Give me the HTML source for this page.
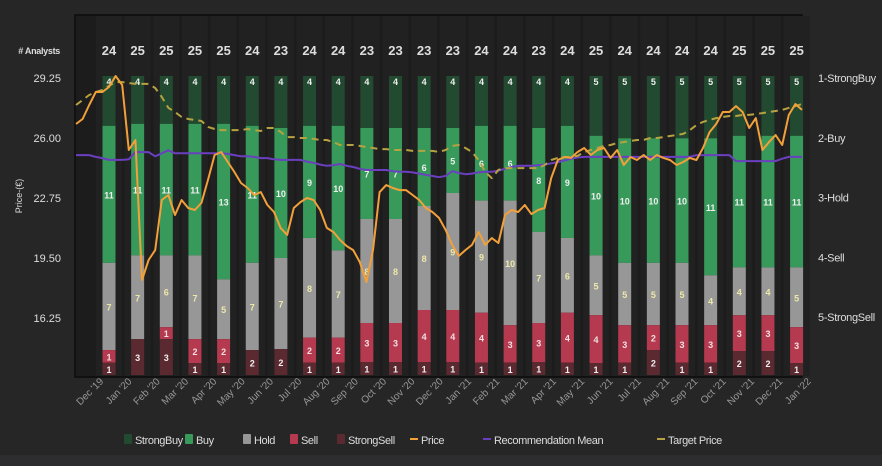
<!DOCTYPE html>
<html><head><meta charset="utf-8"><style>
html,body{margin:0;padding:0;background:#262626;}
svg{display:block;font-family:"Liberation Sans",sans-serif;}
</style></head><body>
<svg id="chart" width="882" height="466" viewBox="0 0 882 466">
<rect x="0" y="0" width="882" height="466" fill="#262626"/>
<rect x="0" y="455" width="882" height="11" fill="#2d2d2f"/>
<rect x="75" y="15" width="727" height="362" fill="#1c1c1c" stroke="#0c0c0c" stroke-width="1.5"/>
<g id="bands"></g><g id="bars"></g><g id="lines"></g><g id="axes"></g>
<text x="60" y="54" fill="#ddd" font-size="9" font-weight="bold" text-anchor="end" letter-spacing="-0.3"># Analysts</text>
<text x="22" y="196" fill="#ddd" font-size="9" text-anchor="middle" transform="rotate(-90 22 196)">Price-(€)</text>
<g id="legend" font-size="11" fill="#ddd"></g>
</svg>
<script>
const months=["Dec '19","Jan '20","Feb '20","Mar '20","Apr '20","May '20","Jun '20","Jul '20","Aug '20","Sep '20","Oct '20","Nov '20","Dec '20","Jan '21","Feb '21","Mar '21","Apr '21","May '21","Jun '21","Jul '21","Aug '21","Sep '21","Oct '21","Nov '21","Dec '21","Jan '22"];
const strongBuy=[4,4,4,4,4,4,4,4,4,4,4,4,4,4,4,4,4,5,5,5,5,5,5,5,5];
const buy=[11,11,11,11,13,11,10,9,10,7,7,6,5,6,6,8,9,10,10,10,10,11,11,11,11];
const hold=[7,7,6,7,5,7,7,8,7,8,8,8,9,9,10,7,6,5,5,5,5,4,4,4,5];
const sell=[1,0,1,2,2,0,0,2,2,3,3,4,4,4,3,3,4,4,3,2,3,3,3,3,3];
const strongSell=[1,3,3,1,1,2,2,1,1,1,1,1,1,1,1,1,1,1,1,2,1,1,2,2,1];
const priceTicks=[29.25,26.00,22.75,19.50,16.25];
const recTicks=["1-StrongBuy","2-Buy","3-Hold","4-Sell","5-StrongSell"];
const price=[26.76,27.03,27.79,28.49,28.49,28.76,29.36,28.87,25.35,25.89,18.31,19.39,19.93,22.64,22.91,21.83,22.64,22.21,22.10,22.48,23.73,25.08,25.24,24.70,24.16,23.56,23.29,22.91,23.07,22.37,21.99,21.13,20.75,22.21,22.53,22.75,22.64,22.10,21.13,20.91,20.48,20.15,19.93,19.28,18.20,19.93,23.07,23.45,23.29,23.18,23.18,22.91,22.64,22.21,21.99,21.67,21.02,20.21,19.61,19.93,20.21,20.91,20.21,20.58,20.31,21.83,22.10,21.99,22.37,21.88,22.10,22.21,23.83,24.81,24.97,24.92,25.24,25.46,25.08,25.35,25.46,24.92,25.35,24.54,24.97,24.81,25.08,24.81,25.08,24.92,24.81,24.54,24.70,24.92,24.81,25.46,26.32,26.76,27.41,27.41,27.73,27.41,26.54,27.08,25.35,25.78,26.16,25.62,27.25,27.84,27.52];
const target=[27.79,28.06,28.33,28.49,28.60,28.82,29.03,29.03,28.98,28.93,28.93,28.93,28.71,28.22,27.63,27.41,27.14,27.03,26.98,26.92,26.60,26.49,26.43,26.43,26.43,26.43,26.49,26.43,26.38,26.54,26.54,26.33,26.05,26.05,26.00,26.00,25.95,25.89,25.89,25.78,25.62,25.62,25.62,25.57,25.51,25.46,25.40,25.40,25.35,25.35,25.35,25.30,25.30,25.30,25.30,25.24,25.35,25.57,25.62,25.46,25.24,24.81,24.16,23.83,24.27,24.37,24.37,24.37,24.37,24.37,24.37,24.54,24.81,24.92,24.97,24.97,25.03,25.24,25.35,25.46,25.57,25.62,25.73,25.78,25.84,25.89,25.89,26.00,26.00,26.05,26.11,26.16,26.22,26.43,26.70,26.87,26.98,27.08,27.14,27.19,27.19,27.25,27.25,27.30,27.35,27.41,27.46,27.52,27.63,27.73,27.84];
const recMean=[2.29,2.29,2.29,2.32,2.34,2.37,2.37,2.37,2.36,2.24,2.24,2.24,2.31,2.26,2.21,2.26,2.26,2.26,2.26,2.26,2.26,2.26,2.26,2.27,2.29,2.31,2.31,2.32,2.34,2.34,2.36,2.37,2.37,2.37,2.37,2.40,2.42,2.45,2.47,2.46,2.44,2.47,2.49,2.52,2.54,2.54,2.54,2.54,2.56,2.57,2.57,2.58,2.60,2.62,2.64,2.66,2.64,2.56,2.59,2.61,2.60,2.58,2.57,2.57,2.55,2.52,2.49,2.47,2.47,2.47,2.46,2.45,2.43,2.41,2.38,2.35,2.33,2.32,2.32,2.32,2.32,2.32,2.32,2.32,2.32,2.32,2.32,2.32,2.32,2.32,2.32,2.32,2.32,2.32,2.29,2.29,2.29,2.29,2.29,2.29,2.39,2.39,2.39,2.39,2.39,2.39,2.39,2.35,2.32,2.32,2.32];

const NS='http://www.w3.org/2000/svg';
function mk(tag,attrs,parent,text){const e=document.createElementNS(NS,tag);for(const k in attrs)e.setAttribute(k,attrs[k]);if(text!==undefined)e.textContent=text;parent.appendChild(e);return e;}
const barX=i=>109+i*28.65;
const barTop=76,barBot=375;
const priceY=p=>78+(29.25-p)*60/3.25;
const recY=v=>78+(v-1)*59.75;
const timeX=(k,n)=>76+k*(726/(n-1));
const bands=document.getElementById('bands'),bars=document.getElementById('bars'),lines=document.getElementById('lines'),axes=document.getElementById('axes');
const segColors=['#224a30','#379a5b','#979797','#b5394f','#5b2a31'];
const segText=['#eee','#eee','#eee8a8','#f0e0e0','#eee'];
const series=[strongBuy,buy,hold,sell,strongSell];
const segNames=['strongbuy','buy','hold','sell','strongsell'];
for(let i=0;i<strongBuy.length;i++){
  const x=barX(i);
  const bd=mk('rect',{x:x-13,y:16,width:26,height:360,fill:'#212121'},bands);
  
  
  const tot=series.reduce((s,a)=>s+a[i],0);
  const ct=mk('text',{x:x,y:55,fill:'#ddd','font-size':13,'font-weight':'bold','text-anchor':'middle'},axes,String(tot));
  
  
  let y=barTop;
  series.forEach((arr,s)=>{
    const v=arr[i];if(!v)return;
    const h=v/tot*(barBot-barTop);
    const r=mk('rect',{x:x-6.5,y:y,width:13,height:h,fill:segColors[s]},bars);
    
    
    const t=mk('text',{x:x,y:(s===0?y+9:y+h/2+4),fill:segText[s],'font-size':9,'font-weight':'bold','text-anchor':'middle'},bars,String(v));
    
    
    y+=h;
  });
}
function path(arr,yf,color,w,dash,name){
  const d=arr.map((v,k)=>(k?'L':'M')+timeX(k,arr.length).toFixed(1)+' '+yf(v).toFixed(1)).join(' ');
  const p=mk('path',{d:d,fill:'none',stroke:color,'stroke-width':w,'stroke-linejoin':'round'},lines);
  if(dash)p.setAttribute('stroke-dasharray',dash);
  
  
}
path(recMean,recY,'#6a3fc0',2,null,'recommendation-mean-line');
path(target,priceY,'#b6a240',2,'7 5','target-price-line');
path(price,priceY,'#f2a03a',2,null,'price-line');
priceTicks.forEach(p=>{
  const t=mk('text',{x:61,y:priceY(p)+4,fill:'#ddd','font-size':11,'text-anchor':'end'},axes,p.toFixed(2));
  
  
});
recTicks.forEach((l,i)=>{
  const t=mk('text',{x:818,y:recY(i+1)+4,fill:'#ddd','font-size':11,'letter-spacing':'-0.3'},axes,l);
  
  
});
months.forEach((m,i)=>{
  const x=104+i*28.3,y=382;
  const t=mk('text',{x:x,y:y,fill:'#999','font-size':10,'text-anchor':'end',transform:`rotate(-45 ${x} ${y})`},axes,m);
  
  
});
const lg=document.getElementById('legend');
const legItems=[['StrongBuy',124,'#224a30','sq'],['Buy',185,'#379a5b','sq'],['Hold',243,'#979797','sq'],['Sell',290,'#b5394f','sq'],['StrongSell',337,'#5b2a31','sq'],['Price',410,'#f2a03a','ln'],['Recommendation Mean',483,'#6a3fc0','ln'],['Target Price',657,'#b6a240','ln']];
legItems.forEach(([n,x,c,k])=>{
  const g=mk('g',{},lg);
  
  
  if(k==='sq')mk('rect',{x:x,y:434,width:8,height:10,fill:c,rx:1},g);
  else mk('rect',{x:x,y:438,width:8,height:2,fill:c},g);
  mk('text',{x:x+11,y:444,fill:'#ddd','font-size':11,'letter-spacing':'-0.4'},g,n);
});
</script>
</body></html>
